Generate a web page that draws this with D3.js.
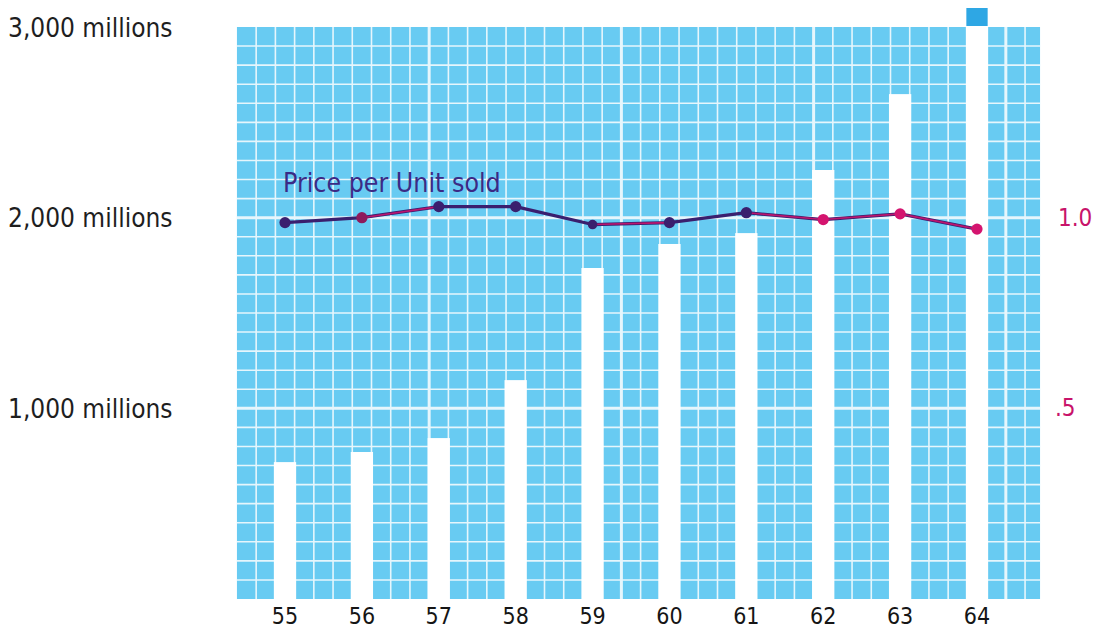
<!DOCTYPE html>
<html>
<head>
<meta charset="utf-8">
<script src="https://cdn.jsdelivr.net/npm/d3@7/dist/d3.min.js"></script>
<style>
  html, body { margin: 0; padding: 0; background: #ffffff; }
  svg { display: block; }
</style>
</head>
<body>
<svg id="chart" width="1093" height="631"></svg>
<script>
// ---- data ----
const years = [55, 56, 57, 58, 59, 60, 61, 62, 63, 64];
const yearLabels = ["55", "56", "57", "58", "59", "60", "61", "62", "63", "64"];
const salesMillions = [718, 771, 844, 1148, 1736, 1862, 1919, 2250, 2648, 3100];
const pricePerUnit = [0.987, 1.000, 1.029, 1.029, 0.982, 0.987, 1.013, 0.995, 1.010, 0.970];
const leftTicks = [1000, 2000, 3000];
const leftTickLabels = ["1,000 millions", "2,000 millions", "3,000 millions"];
const rightTicks = [0.5, 1.0];
const rightTickLabels = [".5", "1.0"];
const seriesTitle = "Price per Unit sold";

// ---- layout ----
const svg = d3.select("#chart");
const FONT = "'DejaVu Sans Condensed', 'DejaVu Sans', sans-serif";

const x = d3.scaleLinear().domain([55, 64]).range([285, 977]);
const y = d3.scaleLinear().domain([0, 3000]).range([599, 27]);
const yR = d3.scaleLinear().domain([0, 1.5]).range([599, 27]);

const panelX0 = x(54.375), panelX1 = x(64.82);
const panelY0 = y(3000), panelY1 = y(0);

// blue panel
svg.append("rect")
  .attr("x", panelX0).attr("y", panelY0)
  .attr("width", panelX1 - panelX0).attr("height", panelY1 - panelY0)
  .attr("fill", "#68cbf2");

const grid = svg.append("g");
// horizontal grid lines every 100 millions
d3.range(100, 3000, 100).forEach(v => {
  const major = v % 1000 === 0;
  grid.append("line")
    .attr("x1", panelX0).attr("x2", panelX1)
    .attr("y1", y(v)).attr("y2", y(v))
    .attr("stroke", "#e6f6fc")
    .attr("stroke-width", major ? 3 : 1.6);
});
// vertical grid lines every quarter year
d3.range(1, 42).forEach(k => {
  const v = 54.375 + 0.25 * k;
  if (x(v) >= panelX1 - 1) return;
  const major = k % 10 === 0;
  grid.append("line")
    .attr("x1", x(v)).attr("x2", x(v))
    .attr("y1", panelY0).attr("y2", panelY1)
    .attr("stroke", "#e6f6fc")
    .attr("stroke-width", major ? 3 : 1.6);
});

// bars
const barW = x(55.29) - x(55);
svg.append("g").selectAll("rect")
  .data(years.map((yr, i) => ({ yr, v: salesMillions[i] })))
  .join("rect")
  .attr("x", d => x(d.yr) - barW / 2)
  .attr("y", d => y(Math.min(d.v, 3000)))
  .attr("width", barW)
  .attr("height", d => y(0) - y(Math.min(d.v, 3000)) + 1)
  .attr("fill", "#ffffff");

// off-scale marker above bars exceeding 3000
svg.append("g").selectAll("rect")
  .data(years.map((yr, i) => ({ yr, v: salesMillions[i] })).filter(d => d.v > 3000))
  .join("rect")
  .attr("x", d => x(d.yr) - barW / 2 + 0.5)
  .attr("y", y(3000) - 19)
  .attr("width", barW - 1)
  .attr("height", 18)
  .attr("fill", "#2ea7e4");

// price line
const pts = years.map((yr, i) => ({ yr, v: pricePerUnit[i], i }));
const line = d3.line().x(d => x(d.yr)).y(d => yR(d.v));
const DARK = "#3a1f6e", MAG = "#d4146f";
svg.append("path").datum(pts).attr("d", line)
  .attr("fill", "none").attr("stroke", DARK).attr("stroke-width", 3.2)
  .attr("stroke-linejoin", "round");
// magenta overprint on some segments
const magSegs = [[1, 2], [4, 5], [6, 7], [7, 8], [8, 9]];
magSegs.forEach(([a, b]) => {
  svg.append("path").datum([pts[a], pts[b]]).attr("d", line)
    .attr("fill", "none").attr("stroke", MAG).attr("stroke-width", 1.6)
    .attr("opacity", 0.85);
});
const ptColor = i => (i >= 7 ? MAG : (i === 1 ? "#8e1a5c" : DARK));
svg.append("g").selectAll("circle").data(pts).join("circle")
  .attr("cx", d => x(d.yr)).attr("cy", d => yR(d.v))
  .attr("r", d => (d.i === 4 ? 4.8 : 5.6))
  .attr("fill", d => ptColor(d.i));

// series title
svg.append("text")
  .attr("x", 283).attr("y", 192)
  .attr("font-family", FONT).attr("font-size", 26.5)
  .attr("fill", "#3b2a85")
  .text(seriesTitle);

// left axis labels
svg.append("g").selectAll("text").data(leftTicks).join("text")
  .attr("x", 8).attr("y", d => y(d) + 2)
  .attr("font-family", FONT).attr("font-size", 26)
  .attr("fill", "#1e1e1e")
  .attr("dominant-baseline", "middle")
  .text((d, i) => leftTickLabels[i]);

// right axis labels
svg.append("g").selectAll("text").data(rightTicks).join("text")
  .attr("x", d => (d === 1 ? 1058 : 1055)).attr("y", d => yR(d) + 1)
  .attr("font-family", FONT).attr("font-size", 24)
  .attr("fill", "#c8136a")
  .attr("dominant-baseline", "middle")
  .text((d, i) => rightTickLabels[i]);

// bottom year labels
svg.append("g").selectAll("text").data(years).join("text")
  .attr("x", d => x(d)).attr("y", 624)
  .attr("text-anchor", "middle")
  .attr("font-family", FONT).attr("font-size", 23)
  .attr("fill", "#151515")
  .text((d, i) => yearLabels[i]);
</script>
</body>
</html>
